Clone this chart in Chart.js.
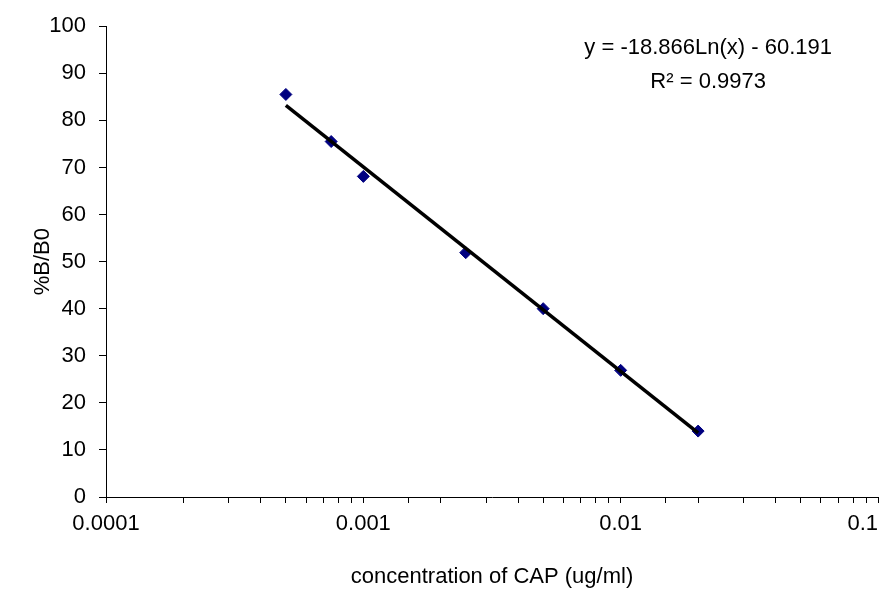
<!DOCTYPE html>
<html>
<head>
<meta charset="utf-8">
<script src="https://cdn.jsdelivr.net/npm/chart.js@4"></script>
<style>
  html, body { margin: 0; padding: 0; background: #fff; }
  #wrap { width: 894px; height: 590px; }
</style>
</head>
<body>
<div id="wrap"><canvas id="calib"></canvas></div>
<script>
const concentration = [0.0005, 0.00075, 0.001, 0.0025, 0.005, 0.01, 0.02];
const percentB = [85.5, 75.5, 68.1, 51.9, 40.0, 26.9, 14.0];

// log trendline end points (straight on a log axis)
const trendX = [0.0005, 0.02];
const trendY = [83.2, 13.6];

const xMin = 0.0001, xMax = 0.1;

const equationText = 'y = -18.866Ln(x) - 60.191';
const r2Text = 'R² = 0.9973';

const FONT = 'Liberation Sans, Arial, sans-serif';
Chart.defaults.font.family = FONT;
Chart.defaults.font.size = 22;
Chart.defaults.color = '#000';

// writes the equation text in the top right, like the excel label
const eqLabel = {
  id: 'eqLabel',
  afterDraw(chart) {
    const ctx = chart.ctx;
    const a = chart.chartArea;
    ctx.save();
    ctx.fillStyle = '#000';
    ctx.font = '22px ' + FONT;
    ctx.textAlign = 'center';
    ctx.textBaseline = 'middle';
    const cx = a.left + (a.right - a.left) * 0.78;
    ctx.fillText(equationText, cx, a.top + 22);
    ctx.fillText(r2Text, cx, a.top + 56);
    ctx.restore();
  }
};

const ctx = document.getElementById('calib').getContext('2d');
new Chart(ctx, {
  type: 'scatter',
  data: {
    datasets: [
      {
        label: 'trend',
        data: trendX.map((x, i) => ({x: x, y: trendY[i]})),
        showLine: true,
        borderColor: '#000',
        borderWidth: 3.5,
        pointRadius: 0,
        order: 0
      },
      {
        label: '%B/B0',
        data: concentration.map((x, i) => ({x: x, y: percentB[i]})),
        pointStyle: 'rectRot',
        pointRadius: 6,
        backgroundColor: '#000080',
        borderColor: '#000080',
        borderWidth: 1,
        order: 1
      }
    ]
  },
  options: {
    responsive: true,
    maintainAspectRatio: false,
    animation: false,
    layout: { padding: {top: 24, right: 16, left: 0, bottom: 0} },
    plugins: {
      legend: { display: false },
      tooltip: { enabled: false }
    },
    scales: {
      x: {
        type: 'logarithmic',
        min: xMin,
        max: xMax,
        afterFit: s => { s.height = 93; s.paddingRight = 0; s.paddingLeft = 0; },
        border: { color: '#000', width: 1 },
        grid: { drawOnChartArea: false, drawTicks: true, tickLength: 6, color: '#000' },
        ticks: {
          autoSkip: false,
          maxRotation: 0,
          padding: 8,
          callback: v => {
            const e = Math.log10(v);
            if (Math.abs(e - Math.round(e)) > 1e-6) return '';
            const txt = v.toFixed(-Math.round(e));
            // excel pulls the last label inside the edge
            return v >= xMax * 0.999 ? txt + '\u00a0\u00a0\u00a0\u00a0\u00a0' : txt;
          }
        },
        title: {
          display: true,
          text: 'concentration of CAP (ug/ml)',
          padding: {top: 0, bottom: 0}
        }
      },
      y: {
        min: 0,
        max: 100,
        afterFit: s => { s.width = 106; },
        border: { color: '#000', width: 1 },
        grid: { drawOnChartArea: false, drawTicks: true, tickLength: 7, color: '#000' },
        ticks: { stepSize: 10, padding: 13 },
        title: {
          display: true,
          text: '%B/B0',
          padding: {top: 30, bottom: 0}
        }
      }
    }
  },
  plugins: [eqLabel]
});
</script>
</body>
</html>
